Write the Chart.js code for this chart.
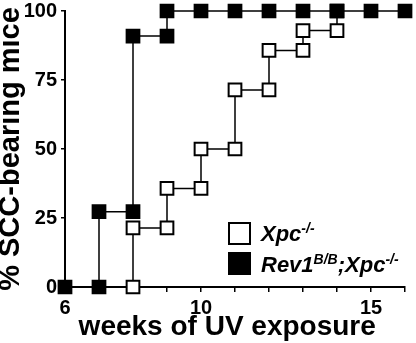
<!DOCTYPE html>
<html>
<head>
<meta charset="utf-8">
<script src="https://cdn.jsdelivr.net/npm/chart.js@4.4.0/dist/chart.umd.min.js"></script>
<style>
  html, body { margin: 0; padding: 0; background: #fff; }
  #wrap { width: 416px; height: 343px; position: relative; }
</style>
</head>
<body>
<div id="wrap"><canvas id="sccChart"></canvas></div>
<script>
// weeks of UV vs % of mice with SCC; every step corner is listed as its own point
const revWeeks  = [6, 7, 7, 8, 8, 9, 9, 10, 11, 12, 13, 14, 15, 16];
const revValues = [0, 0, 27.3, 27.3, 90.9, 90.9, 100, 100, 100, 100, 100, 100, 100, 100];
const xpcWeeks  = [8, 8, 9, 9, 10, 10, 11, 11, 12, 12, 13, 13, 14, 14];
const xpcValues = [0, 21.4, 21.4, 35.7, 35.7, 50, 50, 71.4, 71.4, 85.7, 85.7, 92.9, 92.9, 100];
const xLabels = [6, 10, 15];
const yTicks = [0, 25, 50, 75, 100];
// legend text pieces: [text, superscript?]
const legendXpc = [['Xpc', false], ['-/-', true]];
const legendRev = [['Rev1', false], ['B/B', true], [';Xpc', false], ['-/-', true]];

const FONT = '"Liberation Sans", Arial, sans-serif';

const legendPlugin = {
    id: 'miceLegend',
    afterDraw(chart) {
        const ctx = chart.ctx;
        const rows = [
            {parts: legendXpc, fill: '#fff', top: 223, base: 241},
            {parts: legendRev, fill: '#000', top: 253, base: 272}
        ];
        ctx.save();
        rows.forEach(r => {
            ctx.fillStyle = r.fill;
            ctx.fillRect(229, r.top, 21, 21);
            ctx.lineWidth = 2;
            ctx.strokeStyle = '#000';
            ctx.strokeRect(229, r.top, 21, 21);
            let x = 261;
            ctx.fillStyle = '#000';
            ctx.textBaseline = 'alphabetic';
            ctx.textAlign = 'left';
            r.parts.forEach(([txt, sup]) => {
                ctx.font = 'italic bold ' + (sup ? 14 : 22) + 'px ' + FONT;
                ctx.fillText(txt, x, sup ? r.base - 8 : r.base);
                x += ctx.measureText(txt).width;
            });
        });
        ctx.restore();
    }
};

// no extra room for half tick labels, the box sizes are fixed below
const noPad = s => {
    s.paddingTop = 0; s.paddingBottom = 0;
    s.paddingLeft = 0; s.paddingRight = 0;
};

const ctx = document.getElementById('sccChart').getContext('2d');
const sccChart = new Chart(ctx, {
    type: 'line',
    data: {
        datasets: [{
            label: 'Rev1B/B;Xpc-/-',
            data: revWeeks.map((w, i) => ({x: w, y: revValues[i]})),
            borderColor: '#000',
            borderWidth: 1.5,
            pointStyle: 'rect',
            pointRadius: 9,
            pointBackgroundColor: '#000',
            pointBorderColor: '#000',
            pointBorderWidth: 2,
            clip: false
        }, {
            label: 'Xpc-/-',
            data: xpcWeeks.map((w, i) => ({x: w, y: xpcValues[i]})),
            borderColor: '#000',
            borderWidth: 1.5,
            pointStyle: 'rect',
            pointRadius: 9,
            pointBackgroundColor: '#fff',
            pointBorderColor: '#000',
            pointBorderWidth: 2,
            clip: false
        }]
    },
    options: {
        responsive: true,
        maintainAspectRatio: false,
        animation: false,
        events: [],
        layout: {
            padding: {top: 10, right: 8, left: 0, bottom: 0}
        },
        plugins: {
            legend: {display: false},
            tooltip: {enabled: false}
        },
        scales: {
            x: {
                type: 'linear',
                min: 6,
                max: 16,
                afterFit: s => { s.height = 56; noPad(s); },
                border: {display: true, color: '#000', width: 2},
                grid: {drawOnChartArea: false, drawTicks: true, tickLength: 5, color: '#000', lineWidth: 1.5},
                ticks: {
                    stepSize: 1,
                    autoSkip: false,
                    maxRotation: 0,
                    padding: 4,
                    color: '#000',
                    font: {family: FONT, size: 20, weight: 'bold'},
                    callback: v => xLabels.includes(v) ? String(v) : ''
                },
                title: {
                    display: true,
                    text: 'weeks of UV exposure  ',
                    color: '#000',
                    padding: 0,
                    font: {family: FONT, size: 28, weight: 'bold', lineHeight: 1.15}
                }
            },
            y: {
                min: 0,
                max: 100,
                afterFit: s => { s.width = 65; noPad(s); },
                afterBuildTicks: s => { s.ticks = yTicks.map(v => ({value: v})); },
                border: {display: true, color: '#000', width: 2},
                grid: {drawOnChartArea: false, drawTicks: true, tickLength: 4, color: '#000', lineWidth: 1.5},
                ticks: {
                    padding: 4,
                    color: '#000',
                    font: {family: FONT, size: 20, weight: 'bold'}
                },
                title: {
                    display: true,
                    text: '% SCC-bearing mice',
                    color: '#000',
                    padding: 0,
                    font: {family: FONT, size: 29, weight: 'bold', lineHeight: 0.75}
                }
            }
        }
    },
    plugins: [legendPlugin]
});
</script>
</body>
</html>
